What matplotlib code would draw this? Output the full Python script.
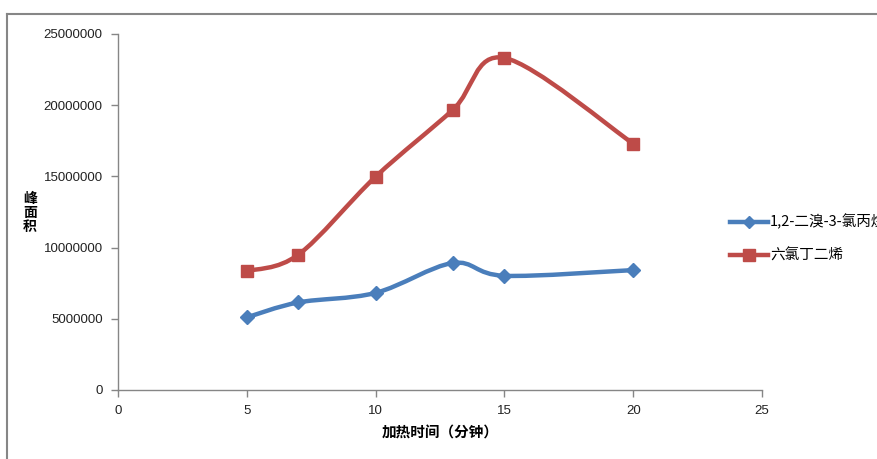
import numpy as np
import matplotlib
matplotlib.use("Agg")
import matplotlib.pyplot as plt
from matplotlib.path import Path
from matplotlib.patches import PathPatch
from matplotlib.lines import Line2D

plt.rcParams['font.family'] = ['Liberation Sans', 'Noto Sans CJK SC', 'DejaVu Sans']

# data
heat_time = [5, 7, 10, 13, 15, 20]
dbcp = [5100000, 6150000, 6820000, 8920000, 8020000, 8420000]   # 1,2-二溴-3-氯丙烷
hcbd = [8350000, 9500000, 14980000, 19680000, 23320000, 17300000]  # 六氯丁二烯
series_names = ['1,2-二溴-3-氯丙烷', '六氯丁二烯']
x_ticks = [0, 5, 10, 15, 20, 25]
y_ticks = [0, 5000000, 10000000, 15000000, 20000000, 25000000]

blue = '#4A7EBB'
red = '#BE4B48'
axis_gray = '#868686'


def smooth_path(xs, ys):
    # Excel-like smoothed line: cubic bezier with 1/6 tangents
    pts = np.column_stack([xs, ys]).astype(float)
    n = len(pts)
    verts = [pts[0]]
    codes = [Path.MOVETO]
    for i in range(n - 1):
        p0 = pts[i - 1] if i > 0 else pts[i]
        p1 = pts[i]
        p2 = pts[i + 1]
        p3 = pts[i + 2] if i + 2 < n else pts[i + 1]
        c1 = p1 + (p2 - p0) / 6.0
        c2 = p2 - (p3 - p1) / 6.0
        verts += [c1, c2, p2]
        codes += [Path.CURVE4] * 3
    return Path(verts, codes)


fig = plt.figure(figsize=(8.78, 4.59), dpi=100)
ax = fig.add_axes([118 / 878, 1 - 390 / 459, (762 - 118) / 878, (390 - 34) / 459])

for ys, col, mk, ms in [(dbcp, blue, 'D', 7), (hcbd, red, 's', 9)]:
    ax.add_patch(PathPatch(smooth_path(heat_time, ys), fill=False, edgecolor=col,
                           lw=3.2, capstyle='round', joinstyle='round', zorder=2))
    ax.plot(heat_time, ys, linestyle='none', marker=mk, ms=ms, color=col, zorder=3)

ax.set_xlim(0, 25)
ax.set_ylim(0, 25000000)
ax.set_xticks(x_ticks)
ax.set_yticks(y_ticks)
ax.set_xticklabels([str(t) for t in x_ticks])
ax.set_yticklabels([str(t) for t in y_ticks])
ax.tick_params(axis='both', direction='out', length=5, width=1, color=axis_gray,
               labelsize=9.5, labelcolor='#222222')
ax.tick_params(axis='x', pad=6)
ax.tick_params(axis='y', pad=6)
for s in ['top', 'right']:
    ax.spines[s].set_visible(False)
for s in ['left', 'bottom']:
    ax.spines[s].set_color(axis_gray)
    ax.spines[s].set_linewidth(1)

# axis titles
fig.text(440 / 878, 1 - 433 / 459, '加热时间（分钟）', ha='center', va='center',
         fontsize=10.5, fontweight='bold', family=['Noto Sans CJK SC', 'DejaVu Sans'])
fig.text(30 / 878, 1 - 213 / 459, '峰\n面\n积', ha='center', va='center',
         fontsize=10, fontweight='bold', linespacing=1.0,
         family=['Noto Sans CJK SC', 'DejaVu Sans'])

# legend (cut at the right edge, as in the source)
handles = [Line2D([], [], color=blue, lw=3.2, marker='D', ms=6),
           Line2D([], [], color=red, lw=3.2, marker='s', ms=8)]
fig.legend(handles, series_names, loc='center left', bbox_to_anchor=(724 / 878, 1 - 238.5 / 459),
           frameon=False, prop={'family': ['Noto Sans CJK SC', 'DejaVu Sans'], 'size': 10.5},
           handlelength=2.6, handletextpad=0.15, labelspacing=1.3, borderaxespad=0)

# chart frame (partly cropped)
fig.add_artist(Line2D([7.5 / 878, 7.5 / 878], [0, 1 - 13.5 / 459], color=axis_gray, lw=1.5))
fig.add_artist(Line2D([7.5 / 878, 1], [1 - 13.5 / 459, 1 - 13.5 / 459], color=axis_gray, lw=1.5))

fig.savefig('out.png', dpi=100)
